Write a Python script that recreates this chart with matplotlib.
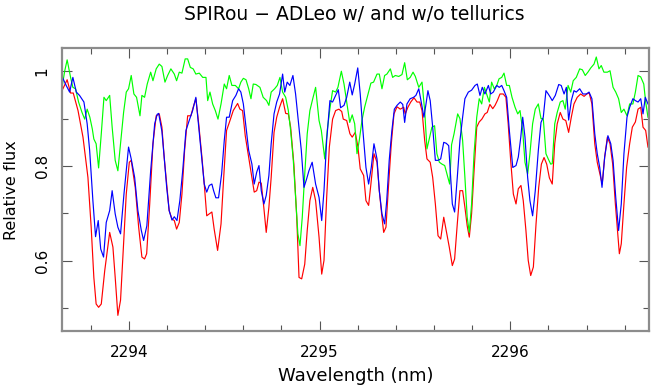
import matplotlib
matplotlib.use("Agg")
import matplotlib.pyplot as plt
from matplotlib.ticker import MultipleLocator

# ---- data ----
red_wl = [2293.649, 2293.676, 2293.694, 2293.708, 2293.733, 2293.759, 2293.785, 2293.802, 2293.816, 2293.828,
          2293.841, 2293.855, 2293.873, 2293.899, 2293.916, 2293.928, 2293.942, 2293.956, 2293.970, 2293.986,
          2294.002, 2294.012, 2294.033, 2294.051, 2294.068, 2294.082, 2294.093, 2294.109, 2294.126, 2294.143,
          2294.159, 2294.173, 2294.185, 2294.198, 2294.211, 2294.226, 2294.238, 2294.250, 2294.264, 2294.278,
          2294.292, 2294.308, 2294.325, 2294.337, 2294.351, 2294.366, 2294.383, 2294.395, 2294.408, 2294.421,
          2294.435, 2294.447, 2294.465, 2294.483, 2294.497, 2294.512, 2294.530, 2294.547, 2294.570, 2294.582,
          2294.596, 2294.610, 2294.628, 2294.645, 2294.657, 2294.670, 2294.682, 2294.694, 2294.708, 2294.720,
          2294.734, 2294.746, 2294.761, 2294.775, 2294.790, 2294.806, 2294.822, 2294.836, 2294.848, 2294.865,
          2294.880, 2294.892, 2294.906, 2294.922, 2294.935, 2294.949, 2294.964, 2294.979, 2294.997, 2295.011,
          2295.023, 2295.037, 2295.051, 2295.068, 2295.084, 2295.101, 2295.116, 2295.124, 2295.142, 2295.159,
          2295.171, 2295.187, 2295.201, 2295.213, 2295.231, 2295.243, 2295.257, 2295.269, 2295.285, 2295.301,
          2295.313, 2295.327, 2295.336, 2295.348, 2295.362, 2295.376, 2295.390, 2295.406, 2295.423, 2295.441,
          2295.449, 2295.463, 2295.478, 2295.495, 2295.511, 2295.525, 2295.537, 2295.551, 2295.563, 2295.580,
          2295.593, 2295.607, 2295.621, 2295.635, 2295.651, 2295.664, 2295.680, 2295.696, 2295.708, 2295.722,
          2295.736, 2295.750, 2295.762, 2295.774, 2295.785, 2295.797, 2295.810, 2295.824, 2295.837, 2295.851,
          2295.867, 2295.879, 2295.893, 2295.908, 2295.920, 2295.932, 2295.946, 2295.963, 2295.977, 2295.989,
          2296.002, 2296.016, 2296.030, 2296.042, 2296.056, 2296.068, 2296.082, 2296.094, 2296.107, 2296.121,
          2296.135, 2296.149, 2296.163, 2296.177, 2296.191, 2296.205, 2296.220, 2296.233, 2296.246, 2296.262,
          2296.276, 2296.291, 2296.306, 2296.320, 2296.334, 2296.351, 2296.369, 2296.387, 2296.401, 2296.414,
          2296.428, 2296.443, 2296.456, 2296.470, 2296.482, 2296.495, 2296.509, 2296.523, 2296.537, 2296.551,
          2296.565, 2296.572, 2296.582, 2296.596, 2296.610, 2296.626, 2296.640, 2296.656, 2296.670, 2296.684,
          2296.696, 2296.710, 2296.722]
red_flux = [0.959, 0.982, 0.954, 0.954, 0.917, 0.861, 0.776, 0.671, 0.565, 0.509,
            0.502, 0.509, 0.579, 0.660, 0.629, 0.565, 0.485, 0.517, 0.622, 0.741,
            0.808, 0.812, 0.755, 0.671, 0.608, 0.604, 0.615, 0.720, 0.847, 0.906,
            0.910, 0.882, 0.818, 0.762, 0.706, 0.688, 0.685, 0.667, 0.681, 0.741,
            0.833, 0.906, 0.906, 0.924, 0.942, 0.889, 0.818, 0.762, 0.695, 0.699,
            0.703, 0.667, 0.622, 0.678, 0.776, 0.875, 0.896, 0.917, 0.932, 0.920,
            0.917, 0.864, 0.818, 0.776, 0.745, 0.748, 0.766, 0.764, 0.710, 0.660,
            0.713, 0.776, 0.871, 0.903, 0.924, 0.942, 0.911, 0.910, 0.882, 0.804,
            0.692, 0.565, 0.562, 0.593, 0.664, 0.727, 0.755, 0.727, 0.650, 0.572,
            0.601, 0.734, 0.840, 0.899, 0.917, 0.920, 0.915, 0.899, 0.896, 0.868,
            0.861, 0.871, 0.840, 0.794, 0.780, 0.727, 0.717, 0.762, 0.826, 0.808,
            0.748, 0.692, 0.660, 0.671, 0.762, 0.847, 0.910, 0.925, 0.920, 0.924,
            0.910, 0.924, 0.935, 0.944, 0.935, 0.935, 0.917, 0.854, 0.815, 0.808,
            0.776, 0.720, 0.653, 0.646, 0.692, 0.664, 0.629, 0.590, 0.604, 0.678,
            0.748, 0.748, 0.713, 0.674, 0.650, 0.699, 0.790, 0.882, 0.893, 0.899,
            0.910, 0.913, 0.930, 0.921, 0.928, 0.938, 0.952, 0.952, 0.945, 0.889,
            0.812, 0.741, 0.720, 0.752, 0.759, 0.727, 0.664, 0.601, 0.569, 0.587,
            0.678, 0.755, 0.804, 0.818, 0.804, 0.775, 0.762, 0.847, 0.889, 0.913,
            0.899, 0.896, 0.871, 0.903, 0.931, 0.945, 0.952, 0.947, 0.952, 0.954,
            0.931, 0.847, 0.808, 0.783, 0.762, 0.819, 0.861, 0.847, 0.804, 0.720,
            0.650, 0.615, 0.636, 0.720, 0.797, 0.847, 0.882, 0.893, 0.920, 0.924,
            0.882, 0.875, 0.840]

blue_wl = [2293.649, 2293.671, 2293.689, 2293.706, 2293.724, 2293.741, 2293.764, 2293.781, 2293.794, 2293.811,
           2293.825, 2293.839, 2293.852, 2293.867, 2293.881, 2293.899, 2293.912, 2293.928, 2293.942, 2293.956,
           2293.974, 2293.998, 2294.012, 2294.030, 2294.047, 2294.065, 2294.077, 2294.094, 2294.114, 2294.135,
           2294.148, 2294.156, 2294.173, 2294.185, 2294.198, 2294.211, 2294.226, 2294.238, 2294.252, 2294.267,
           2294.282, 2294.299, 2294.316, 2294.334, 2294.351, 2294.366, 2294.383, 2294.395, 2294.408, 2294.421,
           2294.435, 2294.444, 2294.456, 2294.470, 2294.486, 2294.500, 2294.512, 2294.526, 2294.544, 2294.561,
           2294.575, 2294.587, 2294.600, 2294.614, 2294.628, 2294.645, 2294.657, 2294.670, 2294.682, 2294.694,
           2294.708, 2294.720, 2294.734, 2294.746, 2294.761, 2294.775, 2294.790, 2294.806, 2294.817, 2294.830,
           2294.844, 2294.860, 2294.874, 2294.888, 2294.904, 2294.918, 2294.932, 2294.944, 2294.961, 2294.979,
           2294.997, 2295.011, 2295.023, 2295.037, 2295.054, 2295.068, 2295.084, 2295.098, 2295.110, 2295.128,
           2295.142, 2295.158, 2295.171, 2295.184, 2295.200, 2295.213, 2295.227, 2295.243, 2295.257, 2295.271,
           2295.285, 2295.301, 2295.313, 2295.327, 2295.341, 2295.352, 2295.365, 2295.379, 2295.392, 2295.406,
           2295.423, 2295.436, 2295.446, 2295.458, 2295.475, 2295.493, 2295.505, 2295.520, 2295.533, 2295.547,
           2295.558, 2295.568, 2295.580, 2295.593, 2295.607, 2295.621, 2295.635, 2295.651, 2295.664, 2295.677,
           2295.684, 2295.696, 2295.708, 2295.722, 2295.736, 2295.750, 2295.762, 2295.780, 2295.797, 2295.815,
           2295.827, 2295.841, 2295.853, 2295.867, 2295.885, 2295.897, 2295.911, 2295.929, 2295.942, 2295.955,
           2295.967, 2295.981, 2295.995, 2296.013, 2296.030, 2296.042, 2296.055, 2296.065, 2296.077, 2296.091,
           2296.103, 2296.117, 2296.131, 2296.147, 2296.161, 2296.173, 2296.187, 2296.199, 2296.210, 2296.220,
           2296.236, 2296.254, 2296.267, 2296.282, 2296.294, 2296.306, 2296.320, 2296.334, 2296.346, 2296.364,
           2296.381, 2296.399, 2296.413, 2296.428, 2296.443, 2296.456, 2296.469, 2296.481, 2296.495, 2296.512,
           2296.527, 2296.539, 2296.553, 2296.568, 2296.582, 2296.596, 2296.612, 2296.626, 2296.643, 2296.656,
           2296.670, 2296.684, 2296.696, 2296.708, 2296.722]
blue_flux = [0.989, 0.970, 0.956, 0.987, 0.956, 0.949, 0.935, 0.889, 0.833, 0.727,
             0.651, 0.685, 0.625, 0.608, 0.681, 0.706, 0.748, 0.699, 0.671, 0.657,
             0.741, 0.840, 0.815, 0.776, 0.706, 0.664, 0.643, 0.674, 0.790, 0.889,
             0.909, 0.911, 0.873, 0.818, 0.755, 0.706, 0.686, 0.693, 0.685, 0.727,
             0.790, 0.875, 0.896, 0.917, 0.945, 0.882, 0.812, 0.762, 0.745, 0.759,
             0.762, 0.748, 0.733, 0.733, 0.783, 0.854, 0.903, 0.903, 0.938, 0.949,
             0.963, 0.956, 0.931, 0.882, 0.833, 0.804, 0.762, 0.787, 0.801, 0.748,
             0.720, 0.738, 0.780, 0.847, 0.910, 0.935, 0.952, 0.994, 0.956, 0.977,
             0.970, 0.991, 0.952, 0.896, 0.833, 0.755, 0.773, 0.790, 0.808, 0.762,
             0.734, 0.685, 0.748, 0.854, 0.938, 0.935, 0.949, 0.961, 0.923, 0.928,
             0.945, 0.977, 0.950, 0.973, 1.007, 0.952, 0.875, 0.797, 0.762, 0.797,
             0.847, 0.815, 0.748, 0.699, 0.678, 0.727, 0.812, 0.875, 0.920, 0.928,
             0.935, 0.930, 0.892, 0.931, 0.942, 0.945, 0.949, 0.963, 0.935, 0.903,
             0.931, 0.959, 0.938, 0.882, 0.812, 0.812, 0.815, 0.850, 0.848, 0.843,
             0.797, 0.720, 0.703, 0.776, 0.854, 0.903, 0.942, 0.956, 0.960, 0.970,
             0.973, 0.949, 0.966, 0.952, 0.970, 0.952, 0.956, 0.970, 0.966, 0.970,
             0.959, 0.945, 0.875, 0.797, 0.801, 0.819, 0.861, 0.903, 0.861, 0.776,
             0.727, 0.695, 0.748, 0.833, 0.892, 0.903, 0.959, 0.952, 0.945, 0.938,
             0.949, 0.972, 0.970, 0.952, 0.966, 0.897, 0.938, 0.959, 0.956, 0.963,
             0.952, 0.952, 0.956, 0.942, 0.868, 0.826, 0.797, 0.755, 0.819, 0.864,
             0.847, 0.812, 0.734, 0.664, 0.720, 0.826, 0.903, 0.924, 0.942, 0.938,
             0.935, 0.942, 0.910, 0.945, 0.931]

green_wl = [2293.649, 2293.663, 2293.676, 2293.694, 2293.706, 2293.720, 2293.736, 2293.754, 2293.768, 2293.781,
            2293.795, 2293.808, 2293.816, 2293.828, 2293.841, 2293.855, 2293.869, 2293.881, 2293.899, 2293.912,
            2293.928, 2293.942, 2293.956, 2293.972, 2293.986, 2293.998, 2294.012, 2294.026, 2294.040, 2294.058,
            2294.068, 2294.082, 2294.096, 2294.114, 2294.126, 2294.143, 2294.159, 2294.173, 2294.189, 2294.203,
            2294.220, 2294.238, 2294.250, 2294.264, 2294.278, 2294.295, 2294.308, 2294.322, 2294.337, 2294.351,
            2294.369, 2294.387, 2294.404, 2294.413, 2294.425, 2294.439, 2294.453, 2294.467, 2294.483, 2294.500,
            2294.512, 2294.526, 2294.540, 2294.558, 2294.575, 2294.587, 2294.600, 2294.614, 2294.628, 2294.640,
            2294.652, 2294.666, 2294.687, 2294.704, 2294.722, 2294.734, 2294.746, 2294.764, 2294.778, 2294.792,
            2294.806, 2294.822, 2294.836, 2294.848, 2294.862, 2294.874, 2294.886, 2294.897, 2294.909, 2294.922,
            2294.935, 2294.949, 2294.964, 2294.979, 2294.997, 2295.009, 2295.027, 2295.040, 2295.054, 2295.068,
            2295.084, 2295.096, 2295.114, 2295.128, 2295.142, 2295.158, 2295.171, 2295.184, 2295.196, 2295.208,
            2295.222, 2295.236, 2295.254, 2295.269, 2295.283, 2295.301, 2295.313, 2295.327, 2295.341, 2295.353,
            2295.371, 2295.383, 2295.397, 2295.415, 2295.432, 2295.446, 2295.460, 2295.475, 2295.490, 2295.502,
            2295.520, 2295.537, 2295.551, 2295.563, 2295.577, 2295.589, 2295.603, 2295.615, 2295.628, 2295.642,
            2295.656, 2295.668, 2295.682, 2295.692, 2295.705, 2295.724, 2295.736, 2295.750, 2295.762, 2295.774,
            2295.785, 2295.797, 2295.810, 2295.824, 2295.837, 2295.850, 2295.864, 2295.876, 2295.890, 2295.902,
            2295.916, 2295.929, 2295.941, 2295.955, 2295.967, 2295.981, 2295.995, 2296.009, 2296.025, 2296.039,
            2296.051, 2296.065, 2296.077, 2296.091, 2296.103, 2296.117, 2296.131, 2296.147, 2296.161, 2296.173,
            2296.187, 2296.199, 2296.212, 2296.220, 2296.233, 2296.246, 2296.262, 2296.276, 2296.288, 2296.303,
            2296.317, 2296.330, 2296.346, 2296.364, 2296.378, 2296.393, 2296.407, 2296.422, 2296.439, 2296.451,
            2296.465, 2296.477, 2296.491, 2296.509, 2296.523, 2296.539, 2296.553, 2296.568, 2296.582, 2296.596,
            2296.612, 2296.626, 2296.643, 2296.656, 2296.670, 2296.684, 2296.700, 2296.710, 2296.722]
green_flux = [0.966, 1.000, 1.024, 0.987, 0.966, 0.963, 0.935, 0.913, 0.899, 0.920,
              0.903, 0.878, 0.857, 0.847, 0.796, 0.868, 0.945, 0.938, 0.949, 0.882,
              0.812, 0.790, 0.847, 0.913, 0.956, 0.963, 0.991, 0.952, 0.945, 0.906,
              0.949, 0.945, 0.973, 0.998, 0.980, 1.005, 1.015, 1.010, 0.977, 0.991,
              1.005, 0.994, 0.980, 0.998, 0.996, 1.026, 1.026, 1.008, 1.005, 0.994,
              0.996, 0.987, 0.987, 0.938, 0.956, 0.931, 0.917, 0.899, 0.931, 0.973,
              0.963, 0.991, 0.970, 0.970, 0.963, 0.977, 0.985, 0.982, 0.963, 0.942,
              0.973, 0.972, 0.966, 0.945, 0.938, 0.928, 0.956, 0.963, 0.970, 0.987,
              0.956, 0.945, 0.917, 0.875, 0.812, 0.734, 0.657, 0.632, 0.692, 0.783,
              0.868, 0.917, 0.942, 0.966, 0.896, 0.875, 0.815, 0.875, 0.921, 0.959,
              0.956, 0.966, 1.000, 0.973, 0.935, 0.892, 0.908, 0.889, 0.826, 0.854,
              0.896, 0.924, 0.952, 0.975, 0.977, 0.994, 0.994, 0.963, 0.991, 0.994,
              1.005, 0.987, 0.991, 0.989, 0.993, 1.018, 0.982, 0.987, 0.998, 0.989,
              0.966, 0.977, 0.917, 0.836, 0.861, 0.882, 0.885, 0.826, 0.808, 0.804,
              0.801, 0.783, 0.762, 0.845, 0.868, 0.910, 0.900, 0.854, 0.776, 0.692,
              0.660, 0.720, 0.826, 0.903, 0.942, 0.931, 0.966, 0.952, 0.935, 0.977,
              0.963, 0.970, 0.984, 0.987, 0.996, 0.970, 0.970, 0.945, 0.924, 0.910,
              0.917, 0.875, 0.808, 0.783, 0.826, 0.889, 0.920, 0.931, 0.900, 0.900,
              0.826, 0.815, 0.804, 0.805, 0.889, 0.913, 0.935, 0.938, 0.920, 0.970,
              0.956, 0.980, 0.987, 1.005, 1.003, 0.991, 0.998, 1.007, 1.015, 1.030,
              1.005, 1.012, 0.998, 0.998, 1.001, 0.966, 0.956, 0.942, 0.913, 0.920,
              0.906, 0.931, 0.931, 0.956, 0.991, 0.988, 0.973, 0.935, 0.903]

title = "SPIRou \u2212 ADLeo w/ and w/o tellurics"
xlabel = "Wavelength (nm)"
ylabel = "Relative flux"
x_range = (2293.649, 2296.729)
y_range = (0.452, 1.049)

# ---- figure ----
plt.rcParams["font.family"] = ["DejaVu Sans"]
fig = plt.figure(figsize=(6.51, 3.89), dpi=100)
ax = fig.add_axes([62 / 651, 1 - 331 / 389, (649.3 - 62) / 651, (331 - 48) / 389])

lw = 0.85
ax.plot(red_wl, red_flux, color="#ff0000", lw=lw)
ax.plot(green_wl, green_flux, color="#00ff00", lw=lw)
ax.plot(blue_wl, blue_flux, color="#0000ff", lw=lw)

ax.set_xlim(*x_range)
ax.set_ylim(*y_range)

ax.xaxis.set_major_locator(MultipleLocator(1.0))
ax.xaxis.set_minor_locator(MultipleLocator(0.2))
ax.yaxis.set_major_locator(MultipleLocator(0.2))
ax.yaxis.set_minor_locator(MultipleLocator(0.1))
ax.xaxis.set_major_formatter(plt.FuncFormatter(lambda v, p: f"{v:.0f}"))
ax.yaxis.set_major_formatter(plt.FuncFormatter(lambda v, p: f"{v:g}"))

frame_col = "#8c8c8c"
for s in ax.spines.values():
    s.set_color(frame_col)
    s.set_linewidth(1.6)
ax.tick_params(which="both", direction="in", top=True, right=True, color="#555555", width=0.8,
               labelsize=11, labelcolor="black")
ax.tick_params(which="major", length=7)
ax.tick_params(which="minor", length=4)
ax.tick_params(axis="x", which="major", pad=10)
ax.tick_params(axis="y", which="major", pad=9)
for lab in ax.get_yticklabels():
    lab.set_rotation(90)
    lab.set_va("center")

fig.text(354 / 651, 1 - 14 / 389, title, ha="center", va="center", fontsize=13.5)
fig.text(356 / 651, 1 - 376 / 389, xlabel, ha="center", va="center", fontsize=13)
fig.text(12 / 651, 1 - 190 / 389, ylabel, ha="center", va="center", rotation=90, fontsize=11.5)

fig.savefig("out.png", dpi=100)
